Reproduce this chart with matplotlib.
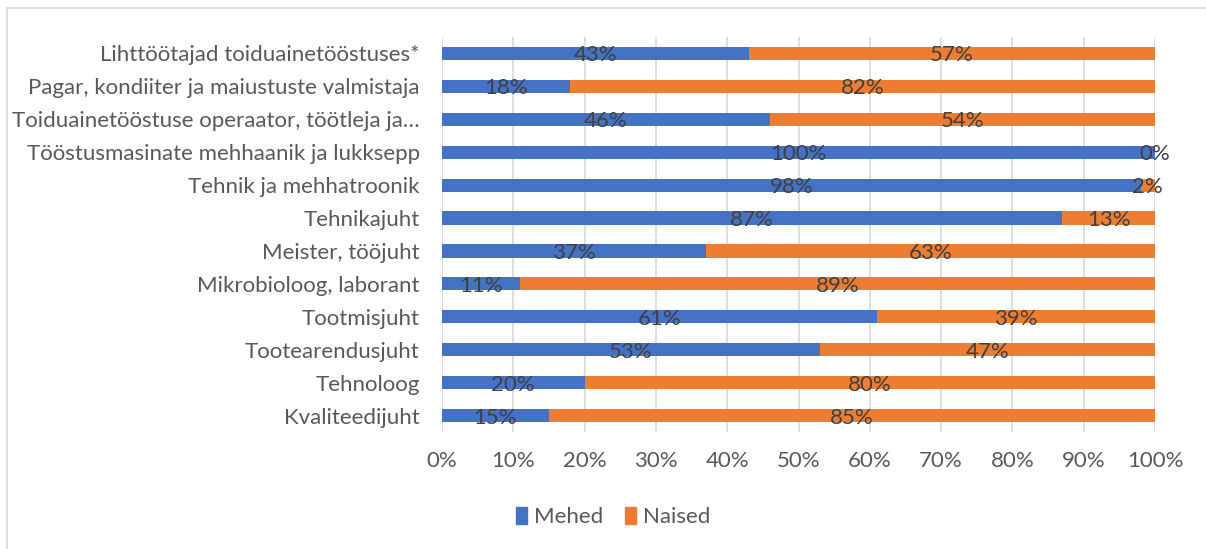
import matplotlib.pyplot as plt
import numpy as np
from matplotlib.patches import Patch
from matplotlib.ticker import PercentFormatter

# Categories from top to bottom as shown
categories = [
    "Lihttöötajad toiduainetööstuses*",
    "Pagar, kondiiter ja maiustuste valmistaja",
    "Toiduainetööstuse operaator, töötleja ja…",
    "Tööstusmasinate mehhaanik ja lukksepp",
    "Tehnik ja mehhatroonik",
    "Tehnikajuht",
    "Meister, tööjuht",
    "Mikrobioloog, laborant",
    "Tootmisjuht",
    "Tootearendusjuht",
    "Tehnoloog",
    "Kvaliteedijuht",
]
mehed = [43, 18, 46, 100, 98, 87, 37, 11, 61, 53, 20, 15]
naised = [57, 82, 54, 0, 2, 13, 63, 89, 39, 47, 80, 85]
series_names = ["Mehed", "Naised"]

BLUE = "#4472C4"
ORANGE = "#ED7D31"
TEXT = "#595959"
LABEL = "#404040"

plt.rcParams['font.family'] = ['Lato', 'DejaVu Sans']

fig = plt.figure(figsize=(12.06, 5.49), dpi=100)
ax = fig.add_axes([442 / 1206, 1 - 432 / 549, (1155 - 442) / 1206, (432 - 37) / 549])

y = np.arange(len(categories))
bar_h = 0.4
bars1 = ax.barh(y, mehed, height=bar_h, color=BLUE, zorder=3)
bars2 = ax.barh(y, naised, left=mehed, height=bar_h, color=ORANGE, zorder=3)

# data labels centred in each segment, nudged slightly below centre like Excel
for bars, vals in ((bars1, mehed), (bars2, naised)):
    for bar, v in zip(bars, vals):
        xc = bar.get_x() + bar.get_width() / 2
        ax.text(xc, bar.get_y() + bar.get_height() / 2 + 0.06, f"{v}%",
                ha='center', va='center', fontsize=16, color=LABEL, zorder=4)

ax.set_ylim(len(categories) - 0.5, -0.5)
ax.set_xlim(0, 100)
ax.set_yticks(y)
ax.set_yticklabels(categories, fontsize=16, color=TEXT)
ax.set_xticks(np.arange(0, 101, 10))
ax.xaxis.set_major_formatter(PercentFormatter(decimals=0))
ax.tick_params(axis='x', labelsize=16, labelcolor=TEXT, length=0, pad=14)
ax.tick_params(axis='y', length=0, pad=16)
ax.xaxis.grid(True, color='#D9D9D9', linewidth=1.2, zorder=0)
for s in ax.spines.values():
    s.set_visible(False)

handles = [Patch(color=BLUE), Patch(color=ORANGE)]
fig.legend(handles, series_names, loc='center', bbox_to_anchor=(613 / 1206, 1 - 517 / 549),
           ncol=2, frameon=False, fontsize=16, labelcolor=TEXT,
           handlelength=0.5, handleheight=0.8, handletextpad=0.3, columnspacing=1.0)

# outer chart frame (top and left edges visible)
fig.add_artist(plt.Line2D([6.5 / 1206, 1], [1 - 7.5 / 549] * 2, color='#D9D9D9', lw=1.2))
fig.add_artist(plt.Line2D([6.5 / 1206] * 2, [0, 1 - 7.5 / 549], color='#D9D9D9', lw=1.2))

fig.savefig("out.png", dpi=100)
